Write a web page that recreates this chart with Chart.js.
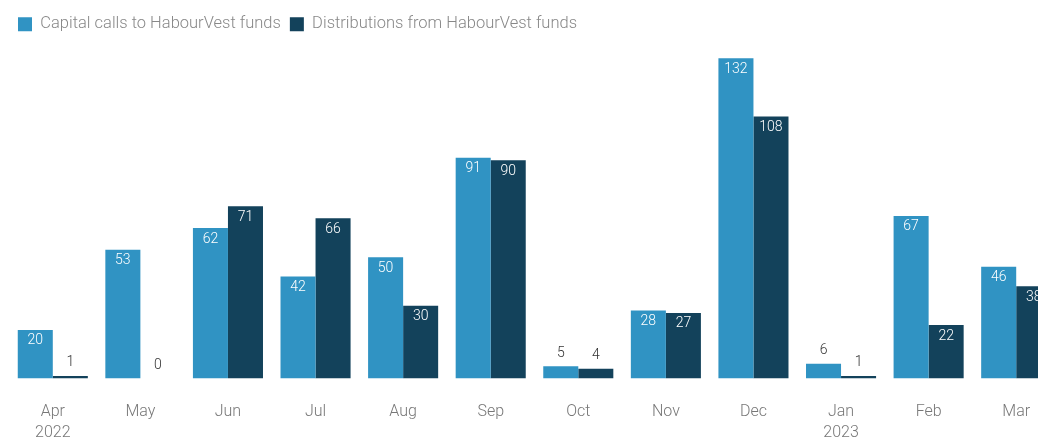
<!DOCTYPE html>
<html>
<head>
<meta charset="utf-8">
<script src="https://cdn.jsdelivr.net/npm/chart.js@4"></script>
<style>
  html, body { margin: 0; padding: 0; background: #fff; overflow: hidden; }
  #wrap { width: 1060px; height: 458px; }
</style>
</head>
<body>
<div id="wrap"><canvas id="chart"></canvas></div>
<script>
// 月ごとのラベル
const months = [['Apr', '2022'], 'May', 'Jun', 'Jul', 'Aug', 'Sep', 'Oct', 'Nov', 'Dec', ['Jan', '2023'], 'Feb', 'Mar'];
// キャピタルコール
const capitalCalls = [20, 53, 62, 42, 50, 91, 5, 28, 132, 6, 67, 46];
// 分配
const distributions = [1, 0, 71, 66, 30, 90, 4, 27, 108, 1, 22, 38];

// 棒の上にラベルを描く
const barLabels = {
    id: 'barLabels',
    afterDatasetsDraw(chart) {
        const ctx = chart.ctx;
        ctx.save();
        ctx.font = '300 14px Roboto';
        ctx.textAlign = 'center';
        ctx.textBaseline = 'middle';
        chart.data.datasets.forEach((ds, i) => {
            chart.getDatasetMeta(i).data.forEach((bar, j) => {
                const h = bar.base - bar.y;
                if (h > 24) {
                    ctx.fillStyle = '#ffffff';
                    ctx.fillText(ds.data[j], bar.x, bar.y + 11);
                } else {
                    ctx.fillStyle = '#333333';
                    ctx.fillText(ds.data[j], bar.x, bar.y - 13);
                }
            });
        });
        ctx.restore();
    }
};

const ctx = document.getElementById('chart').getContext('2d');
new Chart(ctx, {
    type: 'bar',
    data: {
        labels: months,
        datasets: [{
            label: 'Capital calls to HabourVest funds',
            data: capitalCalls,
            backgroundColor: '#3093c3'
        }, {
            label: 'Distributions from HabourVest funds',
            data: distributions,
            backgroundColor: '#13425b'
        }]
    },
    options: {
        responsive: true,
        maintainAspectRatio: false,
        animation: false,
        layout: { padding: { left: 9, right: 0, top: 7 } },
        datasets: { bar: { categoryPercentage: 0.8, barPercentage: 1.0 } },
        plugins: {
            legend: {
                align: 'start',
                labels: {
                    boxWidth: 14,
                    boxHeight: 14,
                    padding: 9,
                    color: '#888888',
                    font: { family: 'Roboto', size: 16.5, weight: '300' }
                }
            },
            tooltip: { enabled: false }
        },
        scales: {
            x: {
                grid: { display: false },
                border: { display: false },
                ticks: {
                    color: '#777777',
                    padding: 15,
                    font: { family: 'Roboto', size: 16, weight: '300', lineHeight: 1.3 }
                }
            },
            y: {
                display: false,
                min: 0,
                max: 138.5
            }
        }
    },
    plugins: [barLabels]
});
</script>
</body>
</html>
